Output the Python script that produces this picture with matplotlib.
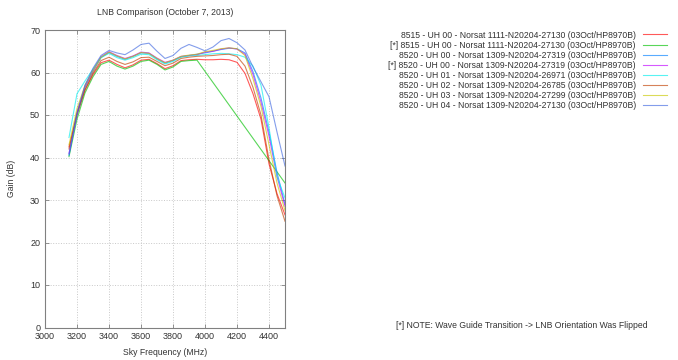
import matplotlib
matplotlib.use('Agg')
import matplotlib.pyplot as plt

plt.rcParams['font.family'] = ['Liberation Sans', 'DejaVu Sans']

# sky frequency (MHz)
freq = [3150, 3200, 3250, 3300, 3350, 3400, 3450, 3500, 3550, 3600, 3650, 3700, 3750, 3800,
        3850, 3900, 3950, 4000, 4050, 4100, 4150, 4200, 4250, 4300, 4350, 4400, 4450, 4500]
# the flipped 8515 run has no points between 3950 and 4500
freq_flip_8515 = [3150, 3200, 3250, 3300, 3350, 3400, 3450, 3500, 3550, 3600, 3650, 3700,
                  3750, 3800, 3850, 3900, 3950, 4500]

# gain (dB)
gain_8515_uh00 = [42.5, 50.0, 55.8, 59.5, 62.3, 62.9, 61.9, 61.1, 61.8, 62.9, 63.1, 62.1, 60.9, 61.6,
                  62.8, 63.0, 63.1, 63.0, 63.0, 63.1, 63.0, 62.4, 59.8, 55.0, 49.0, 38.5, 31.5, 26.5]
gain_8515_uh00_flip = [40.2, 49.0, 55.2, 59.0, 61.9, 62.6, 61.5, 60.8, 61.5, 62.6, 62.9, 61.9,
                       60.6, 61.3, 62.6, 62.8, 62.9, 34.0]
gain_8520_uh00 = [40.5, 50.0, 56.5, 60.2, 63.5, 64.7, 63.8, 63.1, 63.8, 64.6, 64.5, 63.2, 62.2, 62.8,
                  63.7, 64.0, 64.3, 64.6, 65.0, 65.4, 65.7, 65.6, 64.6, 60.2, 54.0, 46.0, 36.5, 29.0]
gain_8520_uh00_flip = [41.0, 50.5, 56.8, 60.5, 63.7, 64.9, 64.0, 63.3, 63.9, 64.8, 64.6, 63.4, 62.4, 62.9,
                       63.8, 64.0, 64.2, 64.8, 65.0, 65.5, 65.8, 65.5, 64.3, 59.5, 53.0, 45.0, 35.5, 28.5]
gain_8520_uh01 = [44.7, 55.0, 58.0, 60.8, 63.5, 64.5, 63.5, 62.9, 63.5, 64.3, 64.2, 63.0, 62.0, 62.6,
                  63.6, 63.9, 64.0, 64.2, 64.4, 64.5, 64.4, 64.2, 63.6, 61.5, 57.0, 47.0, 35.5, 30.5]
gain_8520_uh02 = [42.0, 50.5, 56.0, 59.8, 62.8, 63.6, 62.6, 61.9, 62.5, 63.5, 63.6, 62.6, 61.6, 62.2,
                  63.3, 63.6, 63.8, 63.9, 64.0, 64.2, 64.3, 63.8, 61.5, 56.5, 50.0, 39.5, 31.0, 25.0]
gain_8520_uh03 = [43.0, 51.5, 57.0, 60.5, 63.6, 64.8, 63.9, 63.2, 63.8, 64.7, 64.5, 63.3, 62.3, 62.9,
                  63.8, 64.1, 64.3, 64.9, 65.2, 65.6, 65.8, 65.6, 64.0, 58.5, 52.0, 43.0, 34.0, 27.5]
gain_8520_uh04 = [40.8, 50.5, 57.0, 61.0, 64.0, 65.2, 64.6, 64.2, 65.3, 66.6, 66.9, 65.0, 63.3, 64.0,
                  65.7, 66.6, 65.9, 65.1, 66.0, 67.5, 68.0, 67.0, 65.3, 61.3, 57.8, 54.3, 46.0, 38.0]

labels = [
    '8515 - UH 00 - Norsat 1111-N20204-27130 (03Oct/HP8970B)',
    '[*] 8515 - UH 00 - Norsat 1111-N20204-27130 (03Oct/HP8970B)',
    '8520 - UH 00 - Norsat 1309-N20204-27319 (03Oct/HP8970B)',
    '[*] 8520 - UH 00 - Norsat 1309-N20204-27319 (03Oct/HP8970B)',
    '8520 - UH 01 - Norsat 1309-N20204-26971 (03Oct/HP8970B)',
    '8520 - UH 02 - Norsat 1309-N20204-26785 (03Oct/HP8970B)',
    '8520 - UH 03 - Norsat 1309-N20204-27299 (03Oct/HP8970B)',
    '8520 - UH 04 - Norsat 1309-N20204-27130 (03Oct/HP8970B)',
]

series = [
    (freq, gain_8515_uh00),
    (freq_flip_8515, gain_8515_uh00_flip),
    (freq, gain_8520_uh00),
    (freq, gain_8520_uh00_flip),
    (freq, gain_8520_uh01),
    (freq, gain_8520_uh02),
    (freq, gain_8520_uh03),
    (freq, gain_8520_uh04),
]

# gnuplot default line colours
colors = ['#ff0000', '#00c000', '#0080ff', '#c000ff', '#00eeee', '#c04000', '#c8c800', '#4169e1']

text_col = '#333333'
fs = 6.2

fig = plt.figure(figsize=(6.78, 3.6), dpi=100)
ax = fig.add_axes([45 / 678, 1 - 327.5 / 360, 240 / 678, 297.5 / 360])

for (x, y), lab, c in zip(series, labels, colors):
    ax.plot(x, y, color=c, lw=0.8, alpha=0.65, label=lab)

ax.set_xlim(3000, 4500)
ax.set_ylim(0, 70)
ax.set_xticks(range(3000, 4500, 200))
ax.set_yticks(range(0, 71, 10))
ax.grid(True, color='#c8c8c8', ls=':', lw=0.7)
ax.tick_params(direction='in', top=True, right=True, length=3, width=0.6,
               labelsize=fs + 0.3, colors='#808080', labelcolor=text_col)
for sp in ax.spines.values():
    sp.set_color('#808080')
    sp.set_linewidth(0.8)

ax.set_title('LNB Comparison (October 7, 2013)', fontsize=fs, color=text_col, pad=11)
ax.set_xlabel('Sky Frequency (MHz)', fontsize=fs, color=text_col, labelpad=5)
ax.set_ylabel('Gain (dB)', fontsize=fs, color=text_col, labelpad=10)

fig.legend(loc='upper right', bbox_to_anchor=(667 / 678, 1 - 30.5 / 360), frameon=False,
           markerfirst=False, fontsize=fs, handlelength=2.8, handletextpad=0.8,
           labelspacing=0.12, borderpad=0, borderaxespad=0, labelcolor=text_col)

fig.text(522 / 678, 1 - 326 / 360,
         '[*] NOTE: Wave Guide Transition -> LNB Orientation Was Flipped',
         ha='center', va='center', fontsize=fs, color=text_col)

fig.savefig('out.png', dpi=100)
